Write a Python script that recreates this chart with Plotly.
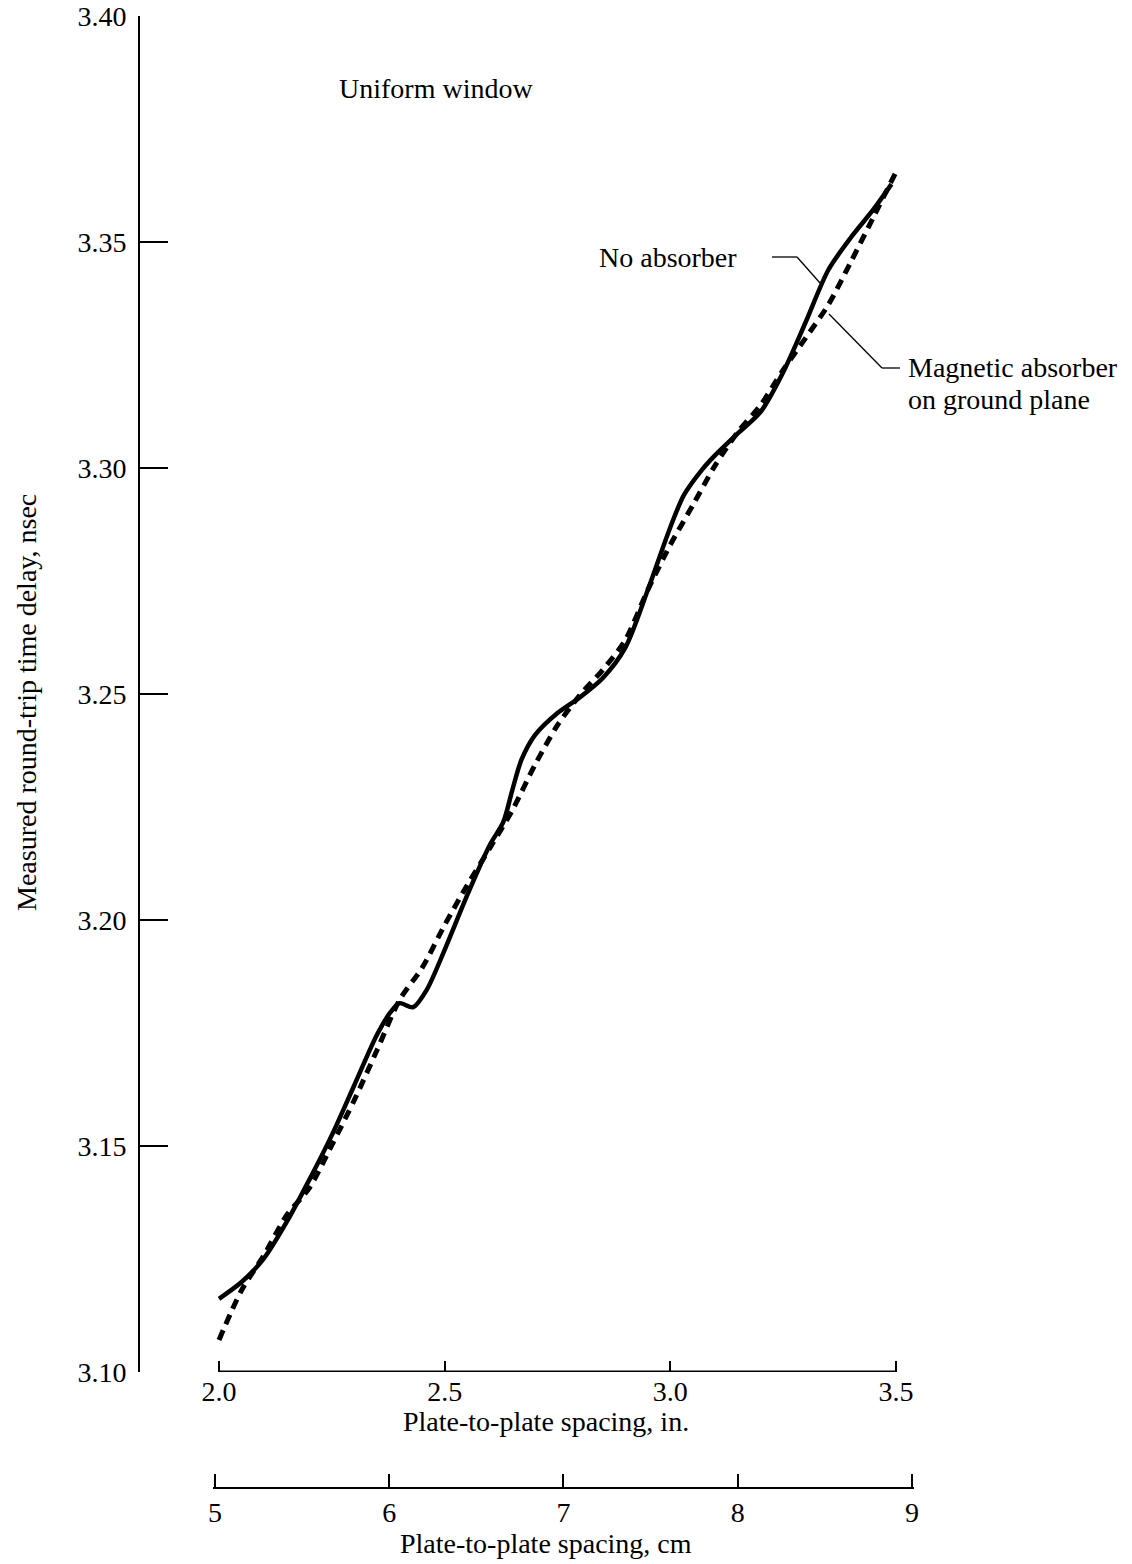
import plotly.graph_objects as go

# ---- data ----
x_in = [2.00, 2.05, 2.10, 2.15, 2.20, 2.25, 2.30, 2.35, 2.38, 2.40, 2.43, 2.46,
        2.50, 2.55, 2.60, 2.63, 2.65, 2.67, 2.70, 2.75, 2.80, 2.85, 2.90, 2.95, 3.00,
        3.03, 3.07, 3.10, 3.15, 3.20, 3.25, 3.30, 3.35, 3.40, 3.45, 3.49]
no_absorber = [3.1162, 3.1199, 3.1252, 3.1332, 3.1425, 3.1524, 3.1635, 3.1746, 3.1796,
               3.1816, 3.1807, 3.1845, 3.1934, 3.2055, 3.2166, 3.2217, 3.2288,
               3.2354, 3.2409, 3.2458, 3.2493, 3.2535, 3.2602, 3.2730, 3.2869, 3.2940,
               3.2996, 3.3029, 3.3077, 3.3124, 3.3212, 3.3323, 3.3438, 3.3510, 3.3572,
               3.3628]

x_mag = [2.00, 2.05, 2.10, 2.15, 2.20, 2.25, 2.30, 2.35, 2.40, 2.45, 2.50, 2.55, 2.60,
         2.65, 2.70, 2.75, 2.80, 2.85, 2.90, 2.95, 3.00, 3.05, 3.10, 3.15, 3.20, 3.25,
         3.30, 3.35, 3.40, 3.45, 3.50]
magnetic = [3.1071, 3.1181, 3.1259, 3.1347, 3.1407, 3.1502, 3.1602, 3.1712, 3.1823,
            3.1894, 3.1989, 3.2077, 3.2159, 3.2243, 3.2343, 3.2431, 3.2498, 3.2553,
            3.2619, 3.2730, 3.2830, 3.2918, 3.3007, 3.3080, 3.3139, 3.3217, 3.3288,
            3.3361, 3.3456, 3.3555, 3.3655]

y_ticks = [3.10, 3.15, 3.20, 3.25, 3.30, 3.35, 3.40]
y_ticklabels = ["3.10", "3.15", "3.20", "3.25", "3.30", "3.35", "3.40"]
in_ticks = [2.0, 2.5, 3.0, 3.5]
in_ticklabels = ["2.0", "2.5", "3.0", "3.5"]
cm_ticks = [5, 6, 7, 8, 9]
cm_ticklabels = ["5", "6", "7", "8", "9"]

# ---- layout geometry (pixels) ----
W, H = 1132, 1564
ML, MR, MT, MB = 140, 212, 16, 77
PW = W - ML - MR
PH = H - MT - MB
X_LEFT_PX, X_20_PX, X_35_PX = 140, 219, 896
PX_PER_IN = (X_35_PX - X_20_PX) / 1.5
x_lo = 2.0 - (X_20_PX - X_LEFT_PX) / PX_PER_IN
x_hi = 2.0 + (W - MR - X_20_PX) / PX_PER_IN
CM_L_PX, CM_R_PX = 215, 912
CM_PAD = 0.01
PX_PER_CM = (CM_R_PX - CM_L_PX) / (cm_ticks[-1] - cm_ticks[0])

def px(xp):
    return (xp - ML) / PW

def py(yp):
    return (H - MB - yp) / PH

FONT = "Liberation Serif, Times New Roman, serif"
FS = 28

fig = go.Figure()
fig.add_trace(go.Scatter(x=x_in, y=no_absorber, mode="lines",
                         line=dict(color="black", width=4.5, shape="spline", smoothing=0.8),
                         showlegend=False, hoverinfo="skip"))
fig.add_trace(go.Scatter(x=x_mag, y=magnetic, mode="lines",
                         line=dict(color="black", width=5, dash="10px,7px", shape="spline", smoothing=0.8),
                         showlegend=False, hoverinfo="skip"))
# carrier for the centimetre scale
fig.add_trace(go.Scatter(x=[cm_ticks[0], cm_ticks[-1]], y=[0, 0], xaxis="x2", yaxis="y2",
                         mode="markers", marker=dict(opacity=0), showlegend=False,
                         hoverinfo="skip"))

tickfont = dict(family=FONT, size=FS, color="black")

fig.update_layout(
    template="none",
    width=W, height=H,
    margin=dict(l=ML, r=MR, t=MT, b=MB, pad=0, autoexpand=False),
    paper_bgcolor="white", plot_bgcolor="white",
    font=dict(family=FONT, size=FS, color="black"),
    xaxis=dict(range=[x_lo, x_hi], domain=[0, 1], anchor="y", automargin=False,
               tickvals=in_ticks, ticktext=in_ticklabels, showline=False,
               ticks="inside", ticklen=11, tickwidth=2, tickcolor="black",
               ticklabelstandoff=0, tickfont=tickfont, showgrid=False, zeroline=False),
    yaxis=dict(range=[3.10, 3.40], domain=[py(1372), 1], anchor="x", automargin=False,
               tickvals=y_ticks, ticktext=y_ticklabels, showline=True, linewidth=2,
               linecolor="black", ticks="inside", ticklen=28, tickwidth=2, tickcolor="black",
               ticklabelstandoff=6, tickfont=tickfont, showgrid=False, zeroline=False),
    xaxis2=dict(range=[cm_ticks[0] - CM_PAD, cm_ticks[-1] + CM_PAD],
                domain=[px(CM_L_PX - CM_PAD * PX_PER_CM), px(CM_R_PX + CM_PAD * PX_PER_CM)],
                anchor="y2", automargin=False,
                tickvals=cm_ticks, ticktext=cm_ticklabels, showline=True, linewidth=2,
                linecolor="black", ticks="inside", ticklen=13, tickwidth=2, tickcolor="black",
                ticklabelstandoff=-1, tickfont=tickfont, showgrid=False, zeroline=False),
    yaxis2=dict(domain=[0, 0.0005], anchor="x2", visible=False, range=[0, 1], automargin=False),
)

# inch axis baseline drawn from 2.0 to 3.5 only
fig.add_shape(type="line", xref="x", yref="y", x0=in_ticks[0], x1=in_ticks[-1],
              y0=y_ticks[0], y1=y_ticks[0], line=dict(color="black", width=3))

ann_font = dict(family=FONT, size=FS, color="black")
annotations = [
    dict(text="Uniform window", x=px(337), y=py(88), xanchor="left", yanchor="middle"),
    dict(text="No absorber", x=px(739), y=py(258), xanchor="right", yanchor="middle"),
    dict(text="Magnetic absorber", x=px(906), y=py(368), xanchor="left", yanchor="middle"),
    dict(text="on ground plane", x=px(906), y=py(400), xanchor="left", yanchor="middle"),
    dict(text="Plate-to-plate spacing, in.", x=px(546), y=py(1421), xanchor="center", yanchor="middle"),
    dict(text="Plate-to-plate spacing, cm", x=px(546), y=py(1543), xanchor="center", yanchor="middle"),
    dict(text="Measured round-trip time delay, nsec", x=px(26), y=py(703), textangle=-90,
         xanchor="center", yanchor="middle"),
]
for a in annotations:
    fig.add_annotation(xref="paper", yref="paper", showarrow=False, font=ann_font, **a)

# leader lines
leaders = [
    [(772, 257), (797, 257), (820, 283)],
    [(900, 368), (882, 368), (829, 314)],
]
for pts in leaders:
    for (x0, y0), (x1, y1) in zip(pts[:-1], pts[1:]):
        fig.add_shape(type="line", xref="paper", yref="paper",
                      x0=px(x0), y0=py(y0), x1=px(x1), y1=py(y1),
                      line=dict(color="black", width=1.3))

fig.write_html("out.html", config={"displayModeBar": False},
               post_script="document.body.style.margin='0';document.body.style.overflow='hidden';")
